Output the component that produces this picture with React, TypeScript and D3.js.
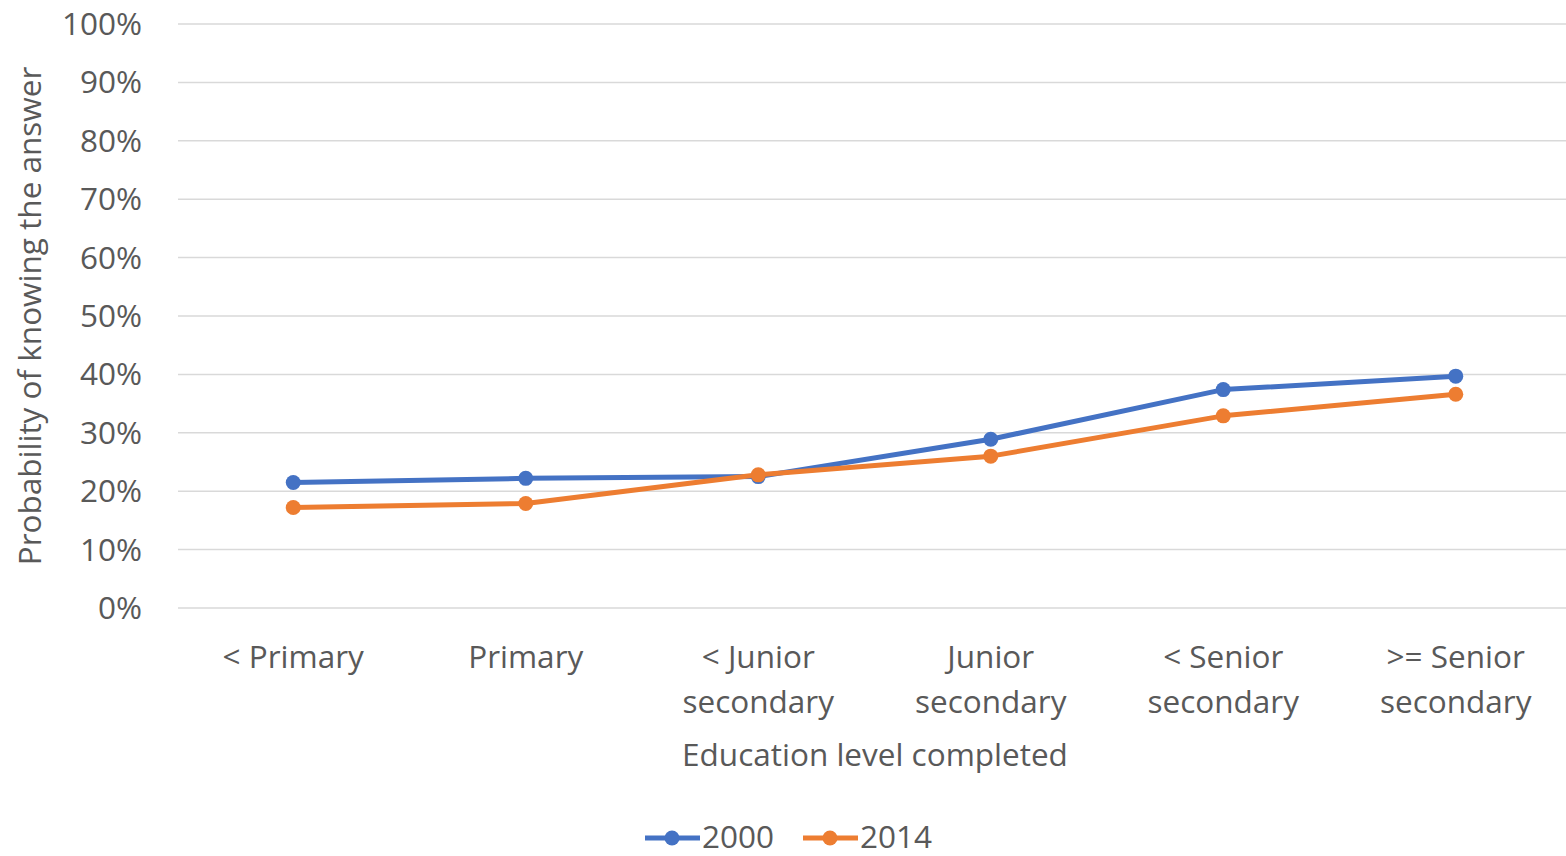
import React, { useEffect } from "react";
import * as d3 from "d3";

const categories: string[][] = [
  ["< Primary"],
  ["Primary"],
  ["< Junior", "secondary"],
  ["Junior", "secondary"],
  ["< Senior", "secondary"],
  [">= Senior", "secondary"],
];
const series2000: number[] = [0.215, 0.222, 0.225, 0.289, 0.374, 0.397];
const series2014: number[] = [0.172, 0.179, 0.228, 0.26, 0.329, 0.366];
const yTicks: number[] = [0, 0.1, 0.2, 0.3, 0.4, 0.5, 0.6, 0.7, 0.8, 0.9, 1.0];
const seriesNames: string[] = ["2000", "2014"];
const seriesColors: string[] = ["#4472C4", "#ED7D31"];

const W = 1566;
const H = 856;
const FONT = "'Open Sans', 'DejaVu Sans', sans-serif";
const TEXT = "#595959";
const FS = 31.5;

export default function App() {
  useEffect(() => {
    document.body.style.margin = "0";
  }, []);

  const x = d3
    .scaleBand<number>()
    .domain(d3.range(categories.length))
    .range([177, 1572]);
  const y = d3.scaleLinear().domain([0, 1]).range([608, 24]);
  const cx = (i: number) => (x(i) as number) + x.bandwidth() / 2;

  const line = d3
    .line<number>()
    .x((_, i) => cx(i))
    .y((d) => y(d));

  const all = [series2000, series2014];

  return (
    <svg width={W} height={H} style={{ display: "block", background: "#fff" }} fontFamily={FONT}>
      {yTicks.map((t) => (
        <g key={t}>
          <line x1={178} x2={W} y1={y(t)} y2={y(t)} stroke="#D9D9D9" strokeWidth={1.5} />
          <text x={142} y={y(t)} dy="0.35em" textAnchor="end" fontSize={FS} fill={TEXT}>
            {d3.format(".0%")(t)}
          </text>
        </g>
      ))}
      <text
        transform={`translate(30,316) rotate(-90)`}
        textAnchor="middle"
        dy="0.35em"
        fontSize={FS}
        fill={TEXT}
      >
        Probability of knowing the answer
      </text>
      {categories.map((lines, i) => (
        <text key={i} x={cx(i)} y={657} textAnchor="middle" fontSize={FS} fill={TEXT}>
          {lines.map((l, j) => (
            <tspan key={j} x={cx(i)} y={657 + j * 45} dy="0.35em">
              {l}
            </tspan>
          ))}
        </text>
      ))}
      <text x={875} y={755} dy="0.35em" textAnchor="middle" fontSize={FS} fill={TEXT}>
        Education level completed
      </text>
      {all.map((s, k) => (
        <g key={k}>
          <path d={line(s) as string} fill="none" stroke={seriesColors[k]} strokeWidth={5} strokeLinejoin="round" />
          {s.map((v, i) => (
            <circle key={i} cx={cx(i)} cy={y(v)} r={7.5} fill={seriesColors[k]} />
          ))}
        </g>
      ))}
      {seriesNames.map((n, k) => {
        const x0 = 645 + k * 158;
        return (
          <g key={n}>
            <line x1={x0} x2={x0 + 55} y1={838} y2={838} stroke={seriesColors[k]} strokeWidth={5} />
            <circle cx={x0 + 27} cy={838} r={7.5} fill={seriesColors[k]} />
            <text x={x0 + 57} y={837} dy="0.35em" fontSize={FS} fill={TEXT}>
              {n}
            </text>
          </g>
        );
      })}
    </svg>
  );
}
